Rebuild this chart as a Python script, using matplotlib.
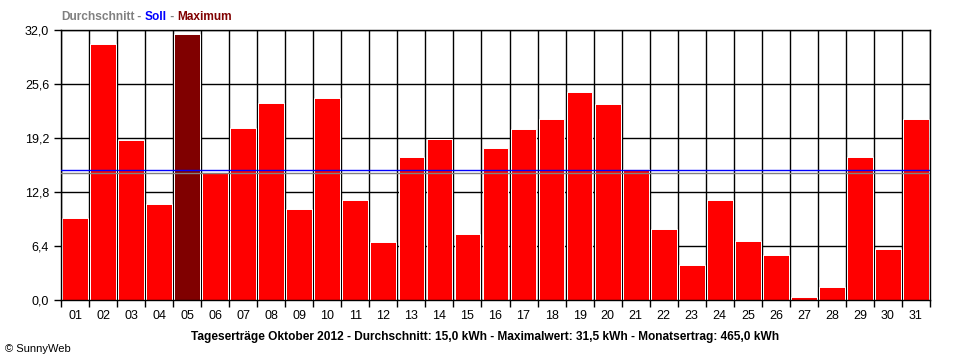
import numpy as np
import matplotlib.pyplot as plt

# Tageserträge Oktober 2012 (kWh)
days = ['%02d' % d for d in range(1, 32)]
values = [9.7, 30.4, 19.0, 11.4, 31.5, 15.1, 20.4, 23.3, 10.8, 24.0,
          11.8, 6.9, 17.0, 19.1, 7.8, 18.0, 20.3, 21.5, 24.6, 23.2,
          15.5, 8.4, 4.1, 11.9, 7.0, 5.3, 0.3, 1.6, 17.0, 6.0, 21.5]
average = 15.0
target = 15.45   # Soll
y_ticks = [0.0, 6.4, 12.8, 19.2, 25.6, 32.0]
caption = ('Tageserträge Oktober 2012 - Durchschnitt: 15,0 kWh - '
           'Maximalwert: 31,5 kWh - Monatsertrag: 465,0 kWh')

plt.rcParams['font.family'] = ['Liberation Sans', 'DejaVu Sans']

fig = plt.figure(figsize=(9.6, 3.6), dpi=100)
ax = fig.add_axes([61 / 960, 60 / 360, 869 / 960, 270 / 360])

x = np.arange(1, len(values) + 1)
imax = int(np.argmax(values))
colors = ['#ff0000'] * len(values)
colors[imax] = '#800000'
ax.bar(x, values, width=0.92, color=colors, edgecolor='white', linewidth=0.7, zorder=2)

ax.axhline(average, color='#808080', lw=1.0, zorder=3)
ax.axhline(target, color='#0000ff', lw=1.0, zorder=3)

ax.set_xlim(0.5, len(values) + 0.5)
ax.set_ylim(0, 32)

# grid at day boundaries, labels at day centres
ax.set_xticks(np.arange(0.5, len(values) + 1, 1.0))
ax.set_xticklabels([])
ax.set_xticks(x, minor=True)
ax.set_xticklabels(days, minor=True, fontsize=9)
ax.tick_params(axis='x', which='major', length=5, width=1, direction='out')
ax.tick_params(axis='x', which='minor', length=0, pad=7)
ax.set_yticks(y_ticks)
ax.set_yticklabels([('%.1f' % v).replace('.', ',') for v in y_ticks], fontsize=9)
ax.tick_params(axis='y', length=5, width=1, direction='out')
ax.grid(True, which='major', color='black', lw=1, zorder=1)
ax.set_axisbelow(True)
for s in ax.spines.values():
    s.set_color('black')
    s.set_linewidth(1)

# coloured header "Durchschnitt - Soll - Maximum"
parts = [('Durchschnitt', '#808080'), (' - ', '#808080'), ('Soll', '#0000ff'),
         (' - ', '#808080'), ('Maximum', '#800000')]
fig.canvas.draw()
r = fig.canvas.get_renderer()
xpos = 61
for txt, col in parts:
    t = fig.text(xpos / 960, 1 - 17 / 360, txt, color=col, fontsize=8.6,
                 fontweight='bold', va='center', ha='left')
    xpos += t.get_window_extent(r).width

fig.text(485 / 960, 1 - 337 / 360, caption, fontsize=8.6, fontweight='bold',
         ha='center', va='center')
fig.text(5 / 960, 1 - 349 / 360, '© SunnyWeb', fontsize=8, ha='left', va='center')

fig.savefig('out.png', dpi=100)
